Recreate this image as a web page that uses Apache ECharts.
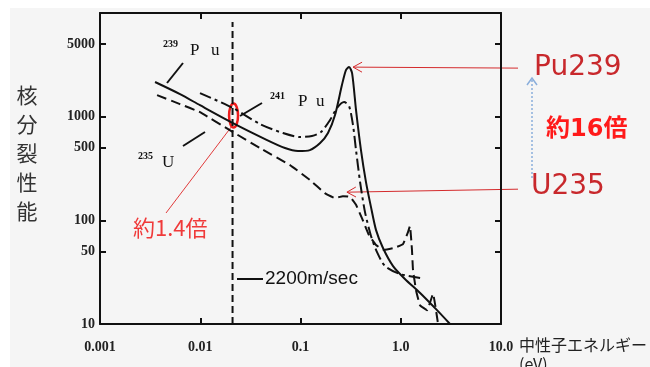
<!DOCTYPE html>
<html>
<head>
<meta charset="utf-8">
<script src="https://cdn.jsdelivr.net/npm/echarts@6/dist/echarts.min.js"></script>
<style>
html, body { margin: 0; padding: 0; background: #fff; }
#wrap { position: relative; width: 650px; height: 367px; overflow: hidden; }
#bg { position: absolute; left: 10px; top: 8px; right: 0; bottom: 0; background: #f5f5f5; }
#chart { position: absolute; left: 0; top: 0; width: 650px; height: 367px; }
</style>
</head>
<body>
<div id="wrap"><div id="bg"></div><div id="chart"></div></div>
<script>
// 読み取り値 (中性子エネルギー eV / 核分裂性能)
var xTickLabels = ['0.001', '0.01', '0.1', '1.0', '10.0'];
var yTickValues = [10, 50, 100, 500, 1000, 5000];

var pu239E = [0.00354, 0.00628, 0.00994, 0.0212, 0.0443, 0.070, 0.0944, 0.124, 0.157, 0.188, 0.221, 0.259, 0.284, 0.305, 0.327, 0.358, 0.401, 0.450, 0.505, 0.567, 0.665, 0.838, 1.10, 1.56, 2.30, 3.10];
var pu239V = [2160, 1650, 1290, 867, 608, 498, 466, 476, 556, 695, 1036, 2018, 2813, 3006, 2630, 1159, 476, 234, 134, 80.5, 54.1, 36.2, 27.2, 19.9, 13.6, 10];

var pu241E = [0.00994, 0.0212, 0.0394, 0.0668, 0.0989, 0.130, 0.160, 0.197, 0.231, 0.272, 0.305, 0.334, 0.358, 0.393, 0.440, 0.505, 0.580, 0.697, 0.983, 1.56];
var pu241V = [1690, 1211, 849, 695, 636, 650, 710, 927, 1211, 1383, 1266, 830, 476, 234, 120, 70.6, 49.4, 36.2, 30.3, 27.8];

var u235E = [0.00371, 0.00628, 0.00994, 0.0212, 0.0394, 0.0785, 0.124, 0.175, 0.221, 0.265, 0.312, 0.358, 0.410, 0.482, 0.567, 0.681, 0.856, 1.053, 1.181, 1.236, 1.294, 1.325, 1.419, 1.556, 1.828, 2.099, 2.356];
var u235V = [1614, 1322, 1106, 710, 498, 341, 245, 183, 164, 171, 168, 141, 105, 72.1, 57.8, 51.8, 54.1, 59.0, 77.1, 88.1, 51.8, 33.2, 21.3, 15.2, 13.6, 19.5, 10];

var thermalE = 0.021;        // 2200m/sec の位置
var thermalV = [10, 8170];

function lg(v) { return Math.log(v) / Math.LN10; }
function pairs(xs, ys) {
  var out = [];
  for (var i = 0; i < xs.length; i++) out.push([lg(xs[i]), lg(ys[i])]);
  return out;
}

var chart = echarts.init(document.getElementById('chart'));

var tickFont = { color: '#222', fontFamily: 'Liberation Serif', fontWeight: 'bold', fontSize: 14 };
var axisLineStyle = { show: true, onZero: false, lineStyle: { color: '#111', width: 2 } };
var yTicks = yTickValues.map(lg);

var option = {
  animation: false,
  grid: { left: 100, top: 13, width: 401, height: 311, containLabel: false },
  xAxis: [{
    type: 'value', min: -3, max: 1, interval: 1, position: 'bottom',
    axisLine: axisLineStyle,
    axisTick: { inside: true, length: 6, lineStyle: { color: '#111', width: 2 } },
    axisLabel: Object.assign({ margin: 16, formatter: function (v) { return xTickLabels[Math.round(v) + 3]; } }, tickFont),
    splitLine: { show: false }
  }, {
    type: 'value', min: -3, max: 1, interval: 1, position: 'top',
    axisLine: axisLineStyle,
    axisTick: { inside: true, length: 6, lineStyle: { color: '#111', width: 2 } },
    axisLabel: { show: false }, splitLine: { show: false }
  }],
  yAxis: [{
    type: 'value', min: 1, max: 4, position: 'left',
    axisLine: axisLineStyle,
    axisTick: { inside: true, length: 6, customValues: yTicks, lineStyle: { color: '#111', width: 2 } },
    axisLabel: Object.assign({ margin: 5, customValues: yTicks, formatter: function (v) { return String(Math.round(Math.pow(10, v))); } }, tickFont),
    splitLine: { show: false }
  }, {
    type: 'value', min: 1, max: 4, position: 'right',
    axisLine: axisLineStyle,
    axisTick: { inside: true, length: 6, customValues: yTicks, lineStyle: { color: '#111', width: 2 } },
    axisLabel: { show: false }, splitLine: { show: false }
  }],
  series: [{
    name: '239Pu', type: 'line', smooth: 0.25, symbol: 'none',
    lineStyle: { color: '#111', width: 2 },
    data: pairs(pu239E, pu239V)
  }, {
    name: '241Pu', type: 'line', smooth: 0.25, symbol: 'none',
    lineStyle: { color: '#111', width: 2, type: [12, 4, 3, 4] },
    data: pairs(pu241E, pu241V)
  }, {
    name: '235U', type: 'line', smooth: 0.1, symbol: 'none',
    lineStyle: { color: '#111', width: 2, type: [10, 5] },
    data: pairs(u235E, u235V)
  }, {
    name: '2200m/sec', type: 'line', symbol: 'none',
    lineStyle: { color: '#111', width: 2, type: [7, 4] },
    data: pairs([thermalE, thermalE], thermalV)
  }]
};
chart.setOption(option);

function px(e, v) { return chart.convertToPixel({ gridIndex: 0 }, [lg(e), lg(v)]); }
function arrowHead(tip, from, len, half, color, width) {
  var dx = tip[0] - from[0], dy = tip[1] - from[1];
  var d = Math.sqrt(dx * dx + dy * dy);
  var ux = dx / d, uy = dy / d;
  return {
    type: 'polyline',
    shape: { points: [
      [tip[0] - ux * len - uy * half, tip[1] - uy * len + ux * half],
      tip,
      [tip[0] - ux * len + uy * half, tip[1] - uy * len - ux * half]
    ] },
    style: { stroke: color, lineWidth: width, fill: null }
  };
}

// 矢印の先はデータ点に合わせる
var iPeak = pu239V.indexOf(Math.max.apply(null, pu239V));
var peakPx = px(pu239E[iPeak], pu239V[iPeak]);
var iDip = 9;
var dipPx = px(u235E[iDip], u235V[iDip]);
var puTip = [peakPx[0] + 4, peakPx[1]];
var uTip = [dipPx[0] + 4, dipPx[1] - 4];
var puFrom = [518, puTip[1] + 1];
var uFrom = [518, uTip[1] - 3];

var ellC = chart.convertToPixel({ gridIndex: 0 }, [lg(thermalE), (lg(867) + lg(1211)) / 2]);

var serif = 'Liberation Serif';
var red = '#d42a2c';
var graphics = [
  // 同位体ラベル
  { type: 'text', x: 163, y: 44, style: { text: '239', font: 'bold 10px ' + serif, fill: '#111', verticalAlign: 'middle' } },
  { type: 'text', x: 190, y: 51, style: { text: 'P', font: '17px ' + serif, fill: '#111', verticalAlign: 'middle' } },
  { type: 'text', x: 211, y: 51, style: { text: 'u', font: '17px ' + serif, fill: '#111', verticalAlign: 'middle' } },
  { type: 'line', shape: { x1: 167, y1: 83, x2: 183, y2: 63 }, style: { stroke: '#111', lineWidth: 2 } },

  { type: 'text', x: 270, y: 96, style: { text: '241', font: 'bold 10px ' + serif, fill: '#111', verticalAlign: 'middle' } },
  { type: 'text', x: 298, y: 102, style: { text: 'P', font: '17px ' + serif, fill: '#111', verticalAlign: 'middle' } },
  { type: 'text', x: 316, y: 102, style: { text: 'u', font: '17px ' + serif, fill: '#111', verticalAlign: 'middle' } },
  { type: 'line', shape: { x1: 240, y1: 116, x2: 262, y2: 103 }, style: { stroke: '#111', lineWidth: 2 } },

  { type: 'text', x: 138, y: 156, style: { text: '235', font: 'bold 10px ' + serif, fill: '#111', verticalAlign: 'middle' } },
  { type: 'text', x: 162, y: 163, style: { text: 'U', font: '17px ' + serif, fill: '#111', verticalAlign: 'middle' } },
  { type: 'line', shape: { x1: 183, y1: 146, x2: 205, y2: 132 }, style: { stroke: '#111', lineWidth: 2 } },

  { type: 'line', shape: { x1: 237, y1: 279, x2: 263, y2: 279 }, style: { stroke: '#111', lineWidth: 2 } },
  { type: 'text', x: 265, y: 279, style: { text: '2200m/sec', font: '19px "Liberation Sans Narrow", "Liberation Sans", sans-serif', fill: '#111', verticalAlign: 'middle' } },

  // 軸タイトル
  { type: 'text', x: 27, y: 81, style: { text: '核\n分\n裂\n性\n能', font: '21px "Noto Sans CJK JP"', lineHeight: 29, fill: '#333', align: 'center', verticalAlign: 'top' } },
  { type: 'text', x: 519, y: 335, style: { text: '中性子エネルギー\n(eV)', font: '16px "Noto Sans CJK JP"', lineHeight: 19, fill: '#222', align: 'left', verticalAlign: 'top' } },

  // 赤い注記
  { type: 'ellipse', shape: { cx: ellC[0] + 1, cy: ellC[1], rx: 4.5, ry: 12 }, style: { stroke: '#ee1c1c', lineWidth: 2.5, fill: null } },
  { type: 'line', shape: { x1: ellC[0] - 1, y1: ellC[1] + 11, x2: 166, y2: 213 }, style: { stroke: '#e03a3a', lineWidth: 1 } },
  { type: 'text', x: 133, y: 228, style: { text: '約1.4倍', font: '22px "Noto Sans CJK JP"', fill: '#f03a3a', verticalAlign: 'middle' } },

  { type: 'line', shape: { x1: puFrom[0], y1: puFrom[1], x2: puTip[0], y2: puTip[1] }, style: { stroke: red, lineWidth: 1 } },
  arrowHead(puTip, puFrom, 9, 5, red, 1),
  { type: 'line', shape: { x1: uFrom[0], y1: uFrom[1], x2: uTip[0], y2: uTip[1] }, style: { stroke: red, lineWidth: 1 } },
  arrowHead(uTip, uFrom, 9, 5, red, 1),
  { type: 'text', x: 534, y: 68, style: { text: 'Pu239', font: '28px "DejaVu Sans"', fill: '#c8282c', verticalAlign: 'middle' } },
  { type: 'text', x: 531, y: 187, style: { text: 'U235', font: '28px "DejaVu Sans"', fill: '#c8282c', verticalAlign: 'middle' } },

  { type: 'line', shape: { x1: 532, y1: 178, x2: 532, y2: 79 }, style: { stroke: '#8aaedb', lineWidth: 1.5, lineDash: [2, 2] } },
  arrowHead([532, 78], [532, 178], 7, 5, '#8aaedb', 1.5),
  { type: 'text', x: 546, y: 130, style: { text: '約16倍', font: 'bold 24px "DejaVu Sans", "Noto Sans CJK JP"', fill: '#ff1a1a', verticalAlign: 'middle' } }
];
chart.setOption({ graphic: graphics });
</script>
</body>
</html>
